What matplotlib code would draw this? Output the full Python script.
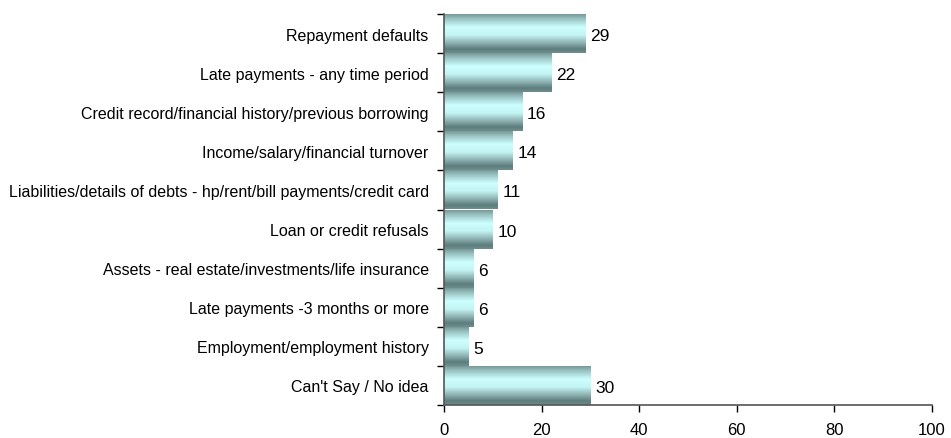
import numpy as np
import matplotlib
matplotlib.use("Agg")
import matplotlib.pyplot as plt
from matplotlib.colors import LinearSegmentedColormap

plt.rcParams['font.family'] = ['Liberation Sans', 'DejaVu Sans']

categories = [
    "Repayment defaults",
    "Late payments - any time period",
    "Credit record/financial history/previous borrowing",
    "Income/salary/financial turnover",
    "Liabilities/details of debts - hp/rent/bill payments/credit card",
    "Loan or credit refusals",
    "Assets - real estate/investments/life insurance",
    "Late payments -3 months or more",
    "Employment/employment history",
    "Can't Say / No idea",
]
values = [29, 22, 16, 14, 11, 10, 6, 6, 5, 30]
x_ticks = [0, 20, 40, 60, 80, 100]

# Cylinder-style shading across each bar (top -> bottom)
cyl = LinearSegmentedColormap.from_list(
    "cyl",
    [(0.00, "#6f8f8f"),
     (0.15, "#9cc4c4"),
     (0.35, "#ccffff"),
     (0.55, "#c4f4f4"),
     (0.75, "#8db0b0"),
     (0.90, "#5d7d7d"),
     (1.00, "#6f8f8f")],
)
grad = np.linspace(0, 1, 256).reshape(-1, 1)

fig = plt.figure(figsize=(9.51, 4.39), dpi=100)
ax = fig.add_axes([444 / 951, 33 / 439, 488 / 951, 391 / 439])

pos = np.arange(len(categories))
bars = ax.barh(pos, values, height=1.0, color="none", edgecolor="none")
for b in bars:
    x0, y0 = b.get_x(), b.get_y()
    w, h = b.get_width(), b.get_height()
    im = ax.imshow(grad, cmap=cyl, aspect="auto",
                   extent=(x0, x0 + w, y0 + h, y0), origin="upper",
                   interpolation="bilinear", zorder=2)
    im.set_clip_path(b)

for p, v in zip(pos, values):
    ax.text(v + 1.0, p + 0.05, str(v), va="center", ha="left",
            fontsize=12.5, color="black")

ax.set_xlim(0, 100)
ax.set_ylim(len(categories) - 0.5, -0.5)
ax.set_xticks(x_ticks)
ax.set_xticklabels([str(t) for t in x_ticks], fontsize=12)
ax.set_yticks(pos)
ax.set_yticklabels(categories, fontsize=11.5)
ax.tick_params(axis="y", length=0, pad=11)
ax.set_yticks(np.arange(len(categories) + 1) - 0.5, minor=True)
ax.tick_params(axis="y", which="minor", length=5, width=1, direction="out",
               color="black")
ax.tick_params(axis="x", length=5, width=1, direction="out", pad=7,
               color="black")

for s in ["top", "right"]:
    ax.spines[s].set_visible(False)
for s in ["left", "bottom"]:
    ax.spines[s].set_color("#555555")
    ax.spines[s].set_linewidth(1.2)

fig.savefig("out.png", dpi=100)
